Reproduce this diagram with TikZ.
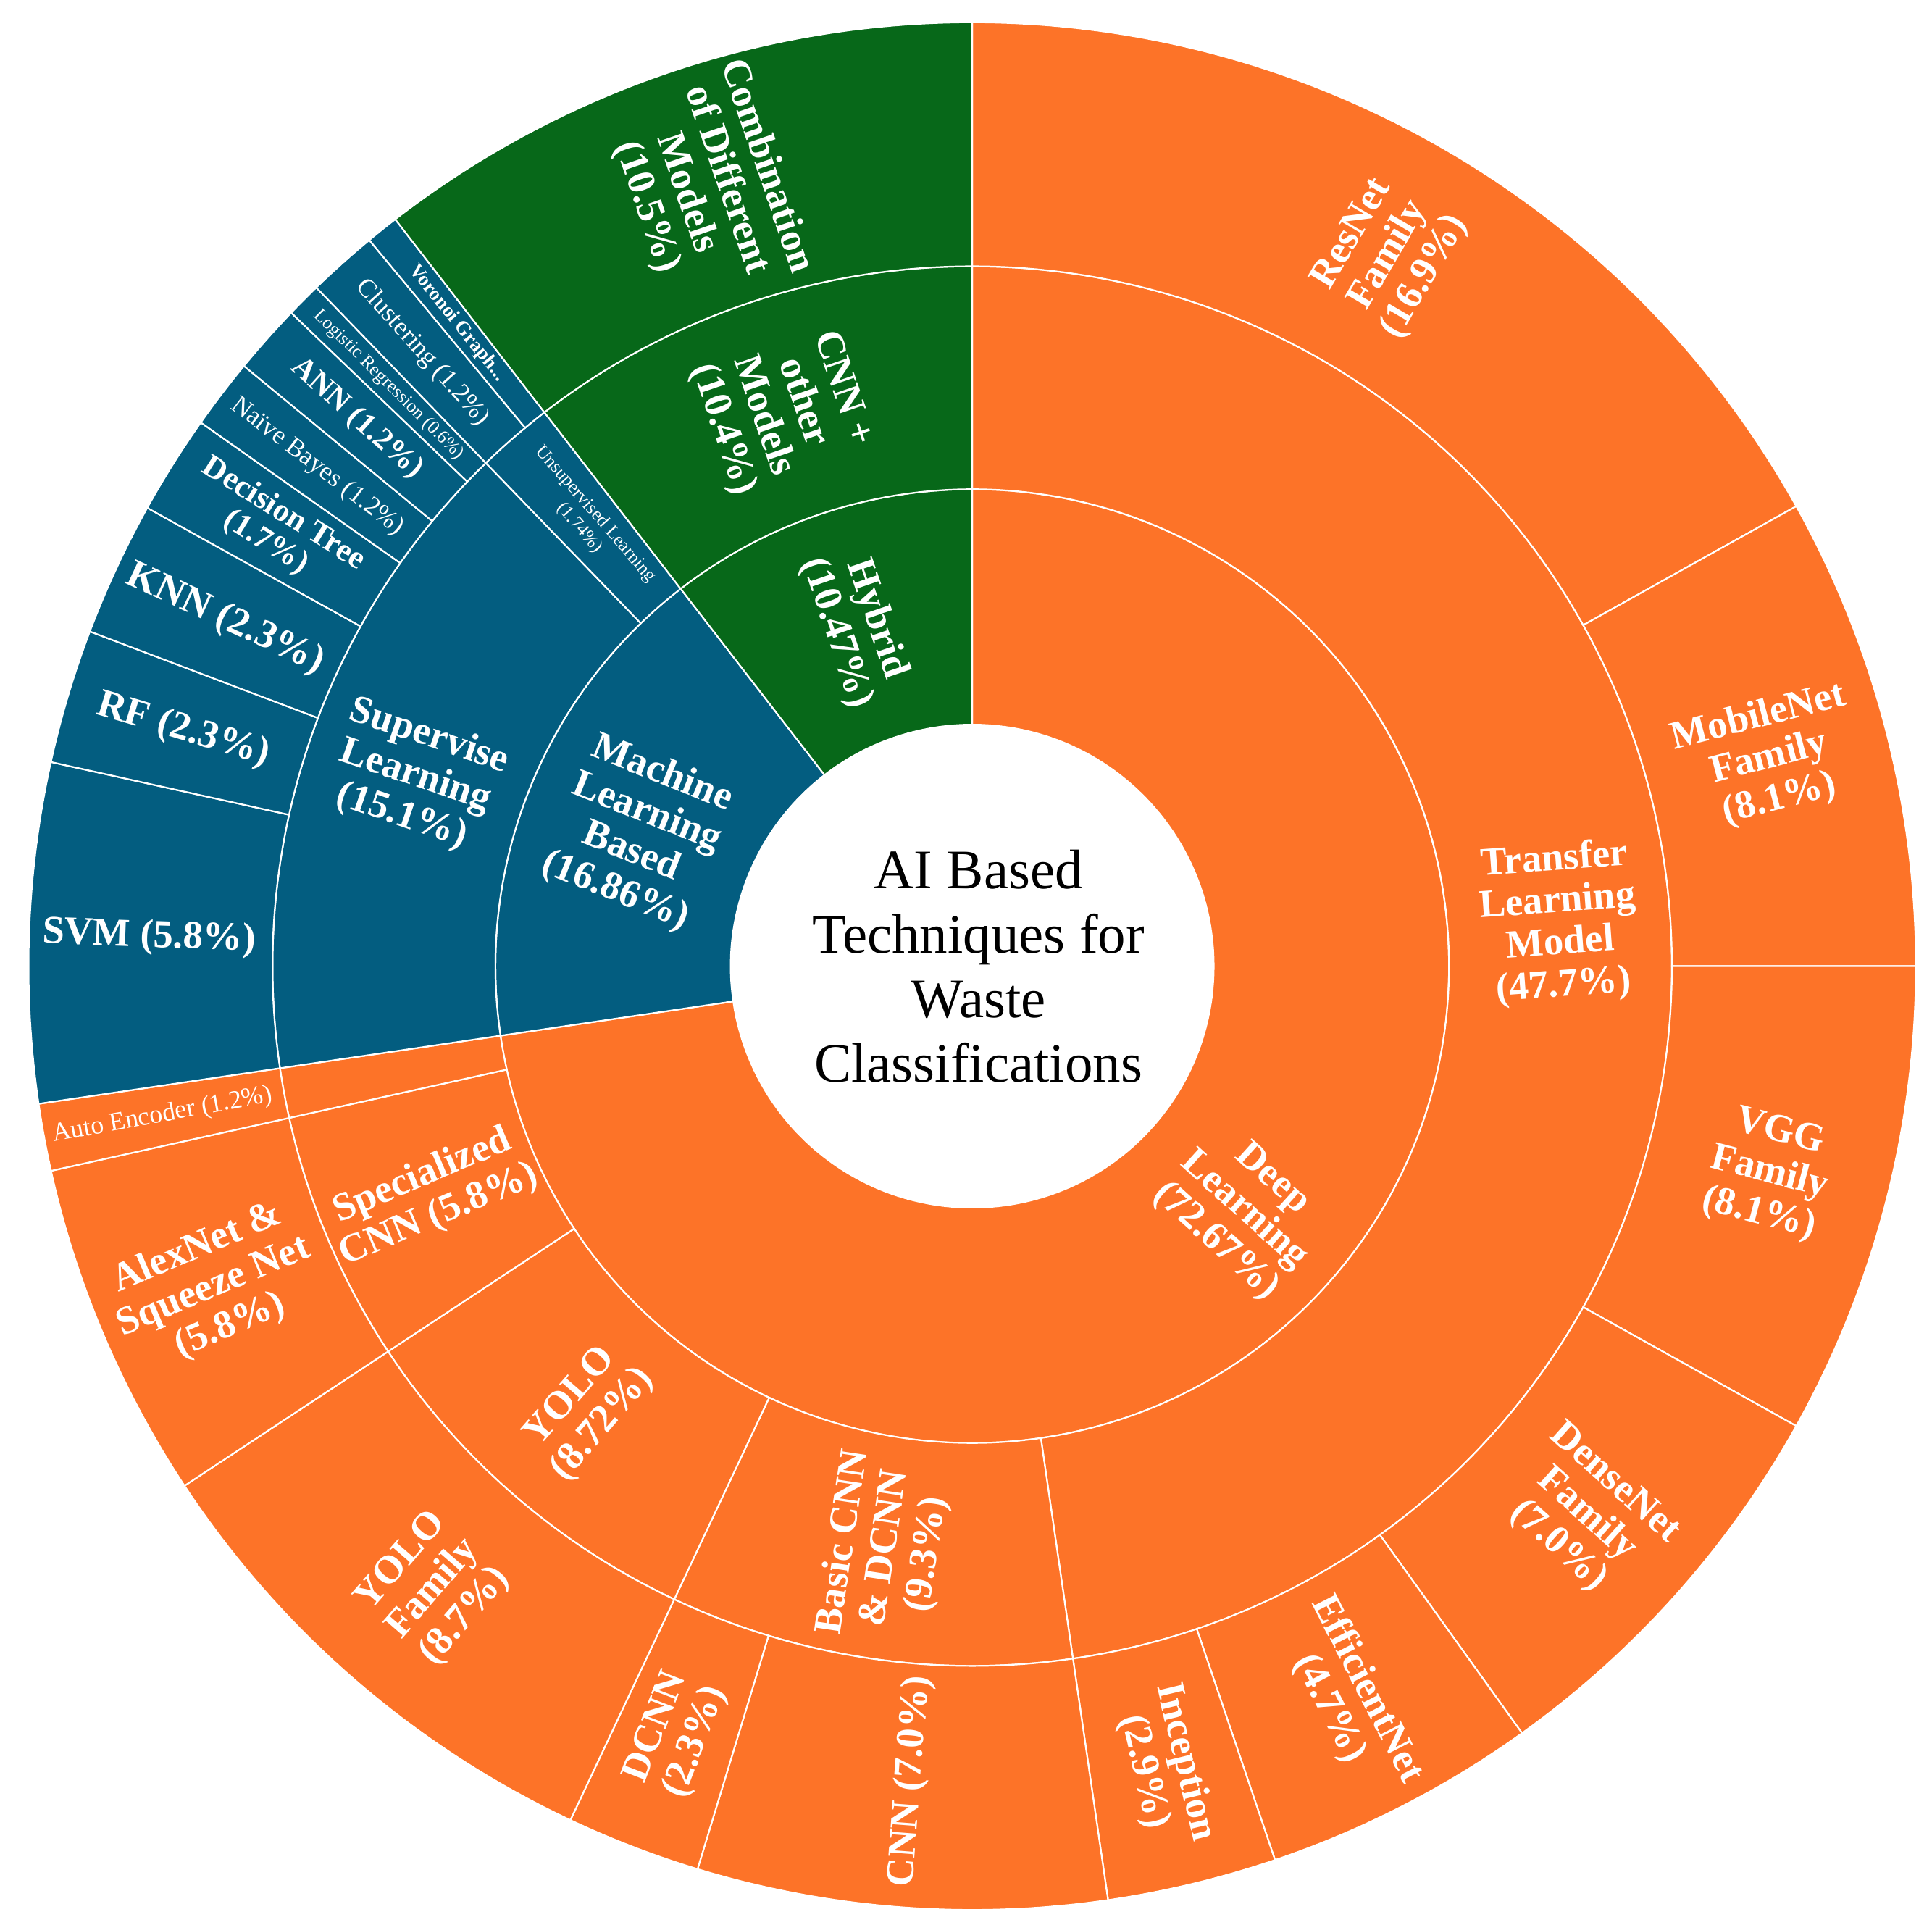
\documentclass[tikz,border=0pt]{standalone}
\usepackage{fontspec}
\setmainfont{Liberation Serif}
\begin{document}
\definecolor{og}{HTML}{FD7328}
\definecolor{gr}{HTML}{076819}
\definecolor{bl}{HTML}{035D80}
\newcommand\sect[5]{\filldraw[fill=#5,draw=white,line width=1.3pt] (#3:#1) arc[start angle=#3,end angle=#4,radius=#1] -- (#4:#2) arc[start angle=#4,end angle=#3,radius=#2] -- cycle;}
\begin{tikzpicture}[x=1pt,y=1pt,
 lb/.style={text=white,font=\bfseries\fontsize{32}{34}\selectfont,align=center,inner sep=0pt},
 sm/.style={text=white,font=\fontsize{21}{23}\selectfont,align=center,inner sep=0pt},
 ss/.style={text=white,font=\fontsize{15}{17}\selectfont,align=center,inner sep=0pt}]
\useasboundingbox (-785,-773.6) rectangle (775,780);
% ring 1
\sect{195}{385}{90}{-171.61}{og}
\sect{195}{385}{188.39}{127.69}{bl}
\sect{195}{385}{127.69}{90}{gr}
% ring 2
\sect{385}{565}{90}{-81.72}{og}
\sect{385}{565}{-81.72}{-115.2}{og}
\sect{385}{565}{-115.2}{-146.59}{og}
\sect{385}{565}{-146.59}{-167.47}{og}
\sect{385}{565}{-167.47}{-171.61}{og}
\sect{385}{565}{188.39}{134.03}{bl}
\sect{385}{565}{134.03}{127.69}{bl}
\sect{385}{565}{127.69}{90}{gr}
% ring 3
\sect{565}{762}{90}{29.16}{og}
\sect{565}{762}{29.16}{0}{og}
\sect{565}{762}{0}{-29.16}{og}
\sect{565}{762}{-29.16}{-54.36}{og}
\sect{565}{762}{-54.36}{-71.28}{og}
\sect{565}{762}{-71.28}{-81.72}{og}
\sect{565}{762}{-81.72}{-106.92}{og}
\sect{565}{762}{-106.92}{-115.2}{og}
\sect{565}{762}{-115.2}{-146.59}{og}
\sect{565}{762}{-146.59}{-167.47}{og}
\sect{565}{762}{-167.47}{-171.61}{og}
\sect{565}{762}{188.39}{167.51}{bl}
\sect{565}{762}{167.51}{159.23}{bl}
\sect{565}{762}{159.23}{150.95}{bl}
\sect{565}{762}{150.95}{144.83}{bl}
\sect{565}{762}{144.83}{140.51}{bl}
\sect{565}{762}{140.51}{136.19}{bl}
\sect{565}{762}{136.19}{134.03}{bl}
\sect{565}{762}{134.03}{129.71}{bl}
\sect{565}{762}{129.71}{127.69}{bl}
\sect{565}{762}{127.69}{90}{gr}
% centre
\node[font=\fontsize{45}{52}\selectfont,align=center] (c) at (5,0) {AI Based\\Techniques for\\Waste\\Classifications};
% ring 1 labels
\node[lb,rotate=-71.15] (hy) at (108.85:290) {Hybrid\\(10.47\%)};
\node[lb,rotate=-21.8] (ml) at (158.2:290) {Machine\\Learning\\Based\\(16.86\%)};
\node[lb,rotate=-42] (dl) at (-42:295) {Deep\\Learning\\(72.67\%)};
% ring 2 labels
\node[lb,rotate=-71.15] (cnno) at (108.85:475) {CNN +\\other\\Models\\(10.4\%)};
\node[lb,rotate=4.15] (tl) at (4.15:475) {Transfer\\Learning\\Model\\(47.7\%)};
\node[lb,rotate=81.55] (bc) at (-98.45:475) {Basic CNN\\\& DCNN\\(9.3\%)};
\node[lb,rotate=49.1] (yo) at (-130.9:475) {YOLO\\(8.72\%)};
\node[lb,rotate=23] (sp) at (-157:475) {Specialized\\CNN (5.8\%)};
\node[lb,rotate=-18.8] (sl) at (161.2:475) {Supervise\\Learning\\(15.1\%)};
\node[ss,rotate=-49.15] (ul) at (130.85:475) {Unsupervised Learning\\(1.74\%)};
% ring 3 labels
\node[lb,rotate=-71.15] (cd) at (108.85:665) {Combination\\of Different\\Models\\(10.5\%)};
\node[lb,rotate=59.6] (rn) at (59.6:665) {ResNet\\Family\\(16.9\%)};
\node[lb,rotate=14.6] (mn) at (14.6:665) {MobileNet\\Family\\(8.1\%)};
\node[lb,rotate=-14.6] (vg) at (-14.6:665) {VGG\\Family\\(8.1\%)};
\node[lb,rotate=-41.8] (dn) at (-41.8:665) {DenseNet\\Family\\(7.0\%)};
\node[lb,rotate=-62.85] (en) at (-62.85:665) {EfficientNet\\(4.7\%)};
\node[lb,rotate=-76.5] (in) at (-76.5:665) {Inception\\(2.9\%)};
\node[lb,rotate=85.7] (cn) at (-94.3:660) {CNN (7.0\%)};
\node[lb,rotate=68.95] (dc) at (-111.05:665) {DCNN\\(2.3\%)};
\node[lb,rotate=49.15] (yf) at (-130.85:665) {YOLO\\Family\\(8.7\%)};
\node[lb,rotate=22.95] (ax) at (-157.05:665) {AlexNet \&\\Squeeze Net\\(5.8\%)};
\node[sm,rotate=10.4] (ae) at (-169.55:665) {Auto Encoder (1.2\%)};
\node[lb,rotate=-2] (svm) at (178:665) {SVM (5.8\%)};
\node[lb,rotate=-16.65] (rf) at (163.37:665) {RF (2.3\%)};
\node[lb,rotate=-24.9] (knn) at (155.1:665) {KNN (2.3\%)};
\node[lb,rotate=-32.1,font=\bfseries\fontsize{26}{27}\selectfont] (dt) at (147.9:665) {Decision Tree\\(1.7\%)};
\node[sm,rotate=-37.3] (nb) at (142.67:665) {Naïve Bayes (1.2\%)};
\node[lb,rotate=-41.65,font=\bfseries\fontsize{25}{26}\selectfont] (ann) at (138.35:665) {ANN (1.2\%)};
\node[ss,rotate=-44.9] (lr) at (135.11:665) {Logistic Regression (0.6\%)};
\node[sm,rotate=-48.1] (cl) at (131.87:665) {Clustering (1.2\%)};
\node[ss,rotate=-51.3,font=\bfseries\fontsize{16}{17}\selectfont] (vo) at (128.7:665) {Voronoi Graph...};
\end{tikzpicture}
\end{document}
